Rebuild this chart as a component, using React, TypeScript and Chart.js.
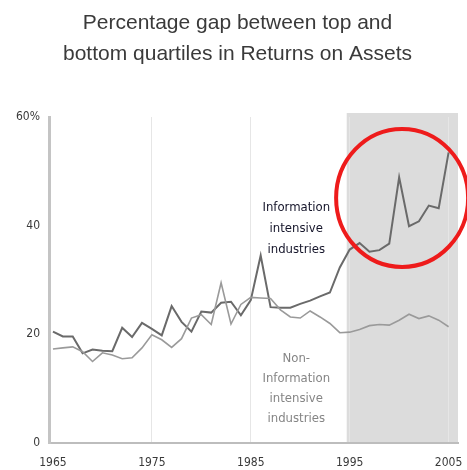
import { useEffect, useRef } from 'react';
import { Chart, registerables } from 'chart.js';

Chart.register(...registerables);

const years = [
  1965, 1966, 1967, 1968, 1969, 1970, 1971, 1972, 1973, 1974,
  1975, 1976, 1977, 1978, 1979, 1980, 1981, 1982, 1983, 1984,
  1985, 1986, 1987, 1988, 1989, 1990, 1991, 1992, 1993, 1994,
  1995, 1996, 1997, 1998, 1999, 2000, 2001, 2002, 2003, 2004, 2005,
];

const infoIntensive = [
  20.5, 19.6, 19.6, 16.5, 17.2, 17.0, 16.9, 21.2, 19.5, 22.1,
  21.0, 19.8, 25.2, 22.3, 20.5, 24.2, 24.0, 25.8, 26.0, 23.5,
  26.3, 34.5, 25.0, 24.9, 24.9, 25.6, 26.2, 27.0, 27.7, 32.3,
  35.6, 36.8, 35.2, 35.5, 36.7, 48.9, 39.9, 40.8, 43.7, 43.2, 53.5,
];

const nonInfoIntensive = [
  17.3, 17.5, 17.7, 16.8, 15.0, 16.6, 16.2, 15.5, 15.7, 17.5,
  19.9, 19.0, 17.6, 19.2, 23.0, 23.6, 21.8, 29.5, 21.9, 25.5,
  26.8, 26.7, 26.6, 24.5, 23.2, 23.0, 24.3, 23.2, 22.0, 20.3,
  20.4, 20.9, 21.6, 21.8, 21.7, 22.6, 23.7, 22.9, 23.4, 22.6, 21.4,
];

const xTickYears = [1965, 1975, 1985, 1995, 2005];
const yTickValues = [0, 20, 40, 60];
const titleLines = ['Percentage gap between top and', 'bottom quartiles in Returns on Assets'];
const infoLabel = ['Information', 'intensive', 'industries'];
const nonInfoLabel = ['Non-', 'Information', 'intensive', 'industries'];
const shadeStartYear = 1994.7;

const NARROW = "'Liberation Sans Narrow', 'DejaVu Sans Condensed', 'Arial Narrow', sans-serif";
const SANS = "'Liberation Sans', Arial, sans-serif";

const overlayPlugin = {
  id: 'overlay',
  beforeDraw(chart: any) {
    const { ctx, chartArea, scales } = chart;
    const xs = scales.x;
    const x0 = xs.getPixelForValue(shadeStartYear);
    ctx.save();
    ctx.fillStyle = '#dcdcdc';
    ctx.fillRect(x0, chartArea.top - 4, chartArea.right - x0, chartArea.bottom - chartArea.top + 4);
    ctx.restore();
  },
  afterDraw(chart: any) {
    const { ctx, scales, width } = chart;
    const xs = scales.x;
    const ys = scales.y;
    ctx.save();
    // title
    ctx.fillStyle = '#3a3a3a';
    ctx.font = `21px ${SANS}`;
    ctx.textAlign = 'center';
    ctx.textBaseline = 'middle';
    titleLines.forEach((t, i) => ctx.fillText(t, width / 2 + 4, 23 + i * 31));

    // info label
    ctx.font = `13px ${NARROW}`;
    ctx.fillStyle = '#15152a';
    const lx = xs.getPixelForValue(1989.6);
    infoLabel.forEach((t, i) => {
      ctx.fillText(t, lx, ys.getPixelForValue(43.3) + i * 21);
    });
    // non-info label
    ctx.fillStyle = '#858585';
    nonInfoLabel.forEach((t, i) => {
      ctx.fillText(t, lx, ys.getPixelForValue(15.6) + i * 20);
    });

    // red circle
    ctx.strokeStyle = '#ee1b1b';
    ctx.lineWidth = 4;
    ctx.beginPath();
    ctx.ellipse(xs.getPixelForValue(2000.3), ys.getPixelForValue(45.1), 66, 69, 0, 0, Math.PI * 2);
    ctx.stroke();
    ctx.restore();
  },
};

export default function App() {
  const ref = useRef<HTMLCanvasElement | null>(null);

  useEffect(() => {
    if (!ref.current) return;
    const chart = new Chart(ref.current, {
      type: 'line',
      data: {
        datasets: [
          {
            label: 'Non-Information intensive industries',
            data: years.map((y, i) => ({ x: y, y: nonInfoIntensive[i] })),
            borderColor: '#9a9a9a',
            borderWidth: 1.6,
            pointRadius: 0,
            tension: 0,
          },
          {
            label: 'Information intensive industries',
            data: years.map((y, i) => ({ x: y, y: infoIntensive[i] })),
            borderColor: '#6a6a6a',
            borderWidth: 2,
            pointRadius: 0,
            tension: 0,
          },
        ],
      },
      options: {
        responsive: false,
        animation: false,
        layout: { padding: { top: 117, right: 9, left: 0, bottom: 0 } },
        plugins: {
          legend: { display: false },
          title: { display: false },
          tooltip: { enabled: false },
        },
        scales: {
          x: {
            type: 'linear',
            min: 1964.6,
            max: 2005.95,
            afterBuildTicks: (scale: any) => {
              scale.ticks = xTickYears.map((v) => ({ value: v }));
            },
            afterFit: (scale: any) => {
              scale.height = 27;
              scale.paddingLeft = 0;
              scale.paddingRight = 0;
            },
            ticks: {
              font: { family: NARROW, size: 12 },
              color: '#3a3a3a',
              padding: 13,
              maxRotation: 0,
              callback: (v: any) => String(v),
            },
            grid: {
              drawTicks: false,
              color: (c: any) => (c.tick && c.tick.value === 1965 ? 'rgba(0,0,0,0)' : '#e6e6e6'),
              lineWidth: 1,
            },
            border: { color: '#bdbdbd', width: 2 },
          },
          y: {
            min: 0,
            max: 60,
            afterBuildTicks: (scale: any) => {
              scale.ticks = yTickValues.map((v) => ({ value: v }));
            },
            afterFit: (scale: any) => {
              scale.width = 49;
              scale.paddingTop = 0;
              scale.paddingBottom = 0;
            },
            ticks: {
              font: { family: NARROW, size: 12 },
              color: '#3a3a3a',
              padding: 9,
              callback: (v: any) => (v === 60 ? '60%' : String(v)),
            },
            grid: { display: false, drawTicks: false },
            border: { color: '#c4c4c4', width: 3 },
          },
        },
      },
      plugins: [overlayPlugin],
    });
    return () => chart.destroy();
  }, []);

  return (
    <div style={{ position: 'absolute', left: 0, top: 0, width: 467, height: 470, background: '#fff' }}>
      <canvas ref={ref} width={467} height={470} />
    </div>
  );
}
